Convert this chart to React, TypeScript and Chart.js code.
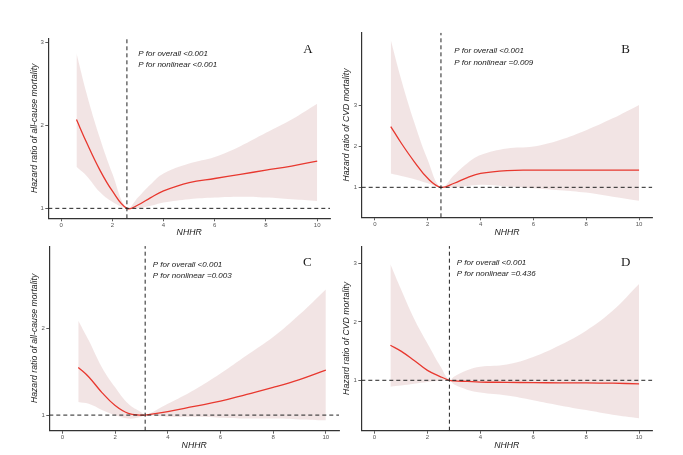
import React, { useEffect, useRef } from 'react';
import { Chart, registerables } from 'chart.js';

Chart.register(...registerables);

// x ticks are shared by all four panels
const xTickValues = [0, 2, 4, 6, 8, 10];
const xRange = [-0.5, 10.5];

// Panel A: all-cause mortality
const xA = [0.6, 1.0, 1.5, 2.0, 2.57, 3.0, 3.5, 4.0, 5.0, 6.0, 7.0, 8.0, 9.0, 10.0];
const hrA = [2.07, 1.79, 1.47, 1.21, 1.0, 1.04, 1.13, 1.21, 1.31, 1.36, 1.41, 1.46, 1.51, 1.57];
const upperA = [2.87, 2.38, 1.86, 1.42, 1.0, 1.13, 1.29, 1.42, 1.54, 1.62, 1.75, 1.91, 2.07, 2.26];
const lowerA = [1.5, 1.39, 1.2, 1.08, 1.0, 1.0, 1.03, 1.07, 1.11, 1.13, 1.14, 1.13, 1.11, 1.09];
const cutA = 2.57;
const yTicksA = [1, 2, 3];
const yRangeA = [0.88, 3.05];

// Panel B: CVD mortality
const xB = [0.6, 1.0, 1.5, 2.0, 2.5, 3.0, 3.5, 4.0, 5.0, 6.0, 7.0, 8.0, 9.0, 10.0];
const hrB = [2.49, 2.08, 1.62, 1.22, 1.0, 1.1, 1.24, 1.34, 1.41, 1.42, 1.42, 1.42, 1.42, 1.42];
const upperB = [4.61, 3.63, 2.57, 1.67, 1.0, 1.3, 1.59, 1.79, 1.95, 2.0, 2.16, 2.4, 2.69, 3.02];
const lowerB = [1.34, 1.28, 1.2, 1.1, 1.0, 1.0, 1.03, 1.06, 1.02, 0.98, 0.93, 0.87, 0.77, 0.67];
const cutB = 2.5;
const yTicksB = [1, 2, 3];
const yRangeB = [0.265, 4.79];

// Panel C: all-cause mortality
const xC = [0.6, 1.0, 1.5, 2.0, 2.5, 3.0, 3.14, 4.0, 5.0, 6.0, 7.0, 8.0, 9.0, 10.0];
const hrC = [1.55, 1.44, 1.26, 1.11, 1.02, 1.0, 1.0, 1.04, 1.1, 1.16, 1.24, 1.32, 1.41, 1.52];
const upperC = [2.09, 1.86, 1.55, 1.32, 1.13, 1.03, 1.0, 1.13, 1.29, 1.48, 1.69, 1.9, 2.16, 2.45];
const lowerC = [1.15, 1.13, 1.06, 1.0, 0.96, 0.98, 1.0, 0.98, 0.98, 0.97, 0.96, 0.96, 0.95, 0.94];
const cutC = 3.14;
const yTicksC = [1, 2];
const yRangeC = [0.82, 2.95];

// Panel D: CVD mortality
const xD = [0.6, 1.0, 1.5, 2.0, 2.5, 2.83, 3.0, 3.5, 4.0, 5.0, 6.0, 7.0, 8.0, 9.0, 10.0];
const hrD = [1.6, 1.5, 1.34, 1.17, 1.06, 1.0, 0.99, 0.98, 0.97, 0.965, 0.96, 0.957, 0.955, 0.95, 0.94];
const upperD = [2.99, 2.56, 2.05, 1.63, 1.23, 1.0, 1.06, 1.17, 1.23, 1.27, 1.4, 1.6, 1.85, 2.19, 2.65];
const lowerD = [0.89, 0.91, 0.94, 0.97, 0.99, 1.0, 0.93, 0.84, 0.79, 0.74, 0.66, 0.57, 0.49, 0.41, 0.35];
const cutD = 2.83;
const yTicksD = [1, 2, 3];
const yRangeD = [0.136, 3.3];

const titleAll = 'Hazard ratio of all-cause mortality';
const titleCvd = 'Hazard ratio of CVD mortality';

type Box = { left: number; top: number; width: number; height: number };
type Area = { l: number; t: number; r: number; b: number };

interface PanelProps {
  box: Box;
  area: Area;
  xs: number[];
  hr: number[];
  upper: number[];
  lower: number[];
  cut: number;
  yTicks: number[];
  yRange: number[];
  yTitle: string;
  yTitleX: number;
  xTitleY: number;
  letter: string;
  letterPos: [number, number];
  pLines: string[];
  pPos: [number, number];
}

const toPts = (xs: number[], ys: number[]) => xs.map((x, i) => ({ x, y: ys[i] }));

const Panel: React.FC<PanelProps> = (p) => {
  const ref = useRef<HTMLCanvasElement>(null);

  useEffect(() => {
    if (!ref.current) return;
    const { box, area } = p;
    const yAxisW = area.l - box.left;
    const xAxisH = box.top + box.height - area.b;
    const titleFont = { family: 'Liberation Sans', size: 8.7, style: 'italic' as const };

    const textPlugin = {
      id: 'panelText',
      afterDraw(chart: Chart) {
        const ctx = chart.ctx;
        ctx.save();
        ctx.fillStyle = '#1a1a1a';
        ctx.font = 'italic 8px "Liberation Sans"';
        ctx.textAlign = 'left';
        ctx.textBaseline = 'middle';
        p.pLines.forEach((s, i) => {
          ctx.fillText(s, p.pPos[0] - box.left, p.pPos[1] - box.top + i * 11.5);
        });
        ctx.font = '13px "Liberation Serif"';
        ctx.textAlign = 'center';
        ctx.fillText(p.letter, p.letterPos[0] - box.left, p.letterPos[1] - box.top);
        ctx.restore();
      },
    };

    const chart = new Chart(ref.current, {
      type: 'line',
      data: {
        datasets: [
          {
            data: [{ x: xRange[0], y: 1 }, { x: xRange[1], y: 1 }],
            borderColor: '#222',
            borderWidth: 1,
            borderDash: [4, 3],
            pointRadius: 0,
          },
          {
            data: [{ x: p.cut, y: p.yRange[0] }, { x: p.cut, y: p.yRange[1] }],
            borderColor: '#222',
            borderWidth: 1,
            borderDash: [4, 3],
            pointRadius: 0,
          },
          {
            data: toPts(p.xs, p.hr),
            borderColor: '#e8382f',
            borderWidth: 1.3,
            pointRadius: 0,
            tension: 0.4,
          },
          {
            data: toPts(p.xs, p.upper),
            borderWidth: 0,
            borderColor: 'rgba(0,0,0,0)',
            pointRadius: 0,
            tension: 0.4,
          },
          {
            data: toPts(p.xs, p.lower),
            borderWidth: 0,
            borderColor: 'rgba(0,0,0,0)',
            backgroundColor: 'rgba(203, 147, 147, 0.25)',
            fill: 3,
            pointRadius: 0,
            tension: 0.4,
          },
        ],
      },
      options: {
        responsive: false,
        animation: false,
        layout: {
          padding: { left: 0, top: area.t - box.top, right: box.left + box.width - area.r, bottom: 0 },
        },
        plugins: {
          legend: { display: false },
          tooltip: { enabled: false },
        },
        scales: {
          x: {
            type: 'linear',
            min: xRange[0],
            max: xRange[1],
            afterBuildTicks: (s: any) => {
              s.ticks = xTickValues.map((v) => ({ value: v }));
            },
            afterFit: (s: any) => {
              s.height = xAxisH;
            },
            grid: { drawOnChartArea: false, drawTicks: true, tickLength: 3, color: '#333', lineWidth: 0.8 },
            border: { display: true, color: '#333', width: 1.2 },
            ticks: {
              font: { family: 'Liberation Sans', size: 6 },
              color: '#555',
              padding: 0.5,
              maxRotation: 0,
            },
            title: {
              display: true,
              text: 'NHHR',
              font: titleFont,
              color: '#1a1a1a',
              padding: { top: 0, bottom: box.top + box.height - p.xTitleY - 5.22 },
            },
          },
          y: {
            type: 'linear',
            min: p.yRange[0],
            max: p.yRange[1],
            afterBuildTicks: (s: any) => {
              s.ticks = p.yTicks.map((v) => ({ value: v }));
            },
            afterFit: (s: any) => {
              s.width = yAxisW;
            },
            grid: { drawOnChartArea: false, drawTicks: true, tickLength: 3, color: '#333', lineWidth: 0.8 },
            border: { display: true, color: '#333', width: 1.2 },
            ticks: {
              font: { family: 'Liberation Sans', size: 6 },
              color: '#555',
              padding: 1.5,
            },
            title: {
              display: true,
              text: p.yTitle,
              font: titleFont,
              color: '#1a1a1a',
              padding: { top: p.yTitleX - box.left - 5.22, bottom: 0 },
            },
          },
        },
      },
      plugins: [textPlugin],
    });

    return () => {
      chart.destroy();
    };
  }, [p]);

  return (
    <canvas
      ref={ref}
      width={p.box.width}
      height={p.box.height}
      style={{
        position: 'absolute',
        left: p.box.left,
        top: p.box.top,
        width: p.box.width,
        height: p.box.height,
      }}
    />
  );
};

const panelA: PanelProps = {
  box: { left: 0, top: 0, width: 341, height: 241 },
  area: { l: 48.3, t: 38.3, r: 330, b: 218.3 },
  xs: xA, hr: hrA, upper: upperA, lower: lowerA, cut: cutA,
  yTicks: yTicksA, yRange: yRangeA, yTitle: titleAll,
  yTitleX: 35, xTitleY: 232.7,
  letter: 'A', letterPos: [308, 50],
  pLines: ['P for overall <0.001', 'P for nonlinear <0.001'], pPos: [138.3, 53.3],
};

const panelB: PanelProps = {
  box: { left: 341, top: 0, width: 342, height: 241 },
  area: { l: 361.7, t: 32.7, r: 652.3, b: 217.3 },
  xs: xB, hr: hrB, upper: upperB, lower: lowerB, cut: cutB,
  yTicks: yTicksB, yRange: yRangeB, yTitle: titleCvd,
  yTitleX: 347, xTitleY: 232.7,
  letter: 'B', letterPos: [625.7, 49.3],
  pLines: ['P for overall <0.001', 'P for nonlinear =0.009'], pPos: [454.3, 51],
};

const panelC: PanelProps = {
  box: { left: 0, top: 241, width: 341, height: 214 },
  area: { l: 49.3, t: 245, r: 339, b: 430.7 },
  xs: xC, hr: hrC, upper: upperC, lower: lowerC, cut: cutC,
  yTicks: yTicksC, yRange: yRangeC, yTitle: titleAll,
  yTitleX: 35, xTitleY: 446,
  letter: 'C', letterPos: [307.3, 262.3],
  pLines: ['P for overall <0.001', 'P for nonlinear =0.003'], pPos: [152.7, 264.3],
};

const panelD: PanelProps = {
  box: { left: 341, top: 241, width: 342, height: 214 },
  area: { l: 361.3, t: 245, r: 652.3, b: 430.7 },
  xs: xD, hr: hrD, upper: upperD, lower: lowerD, cut: cutD,
  yTicks: yTicksD, yRange: yRangeD, yTitle: titleCvd,
  yTitleX: 347, xTitleY: 446,
  letter: 'D', letterPos: [625.7, 262.3],
  pLines: ['P for overall <0.001', 'P for nonlinear =0.436'], pPos: [456.7, 262.7],
};

export default function App() {
  return (
    <div
      style={{
        position: 'fixed',
        left: 0,
        top: 0,
        width: 683,
        height: 455,
        background: '#fff',
      }}
    >
      <Panel {...panelA} />
      <Panel {...panelB} />
      <Panel {...panelC} />
      <Panel {...panelD} />
    </div>
  );
}
